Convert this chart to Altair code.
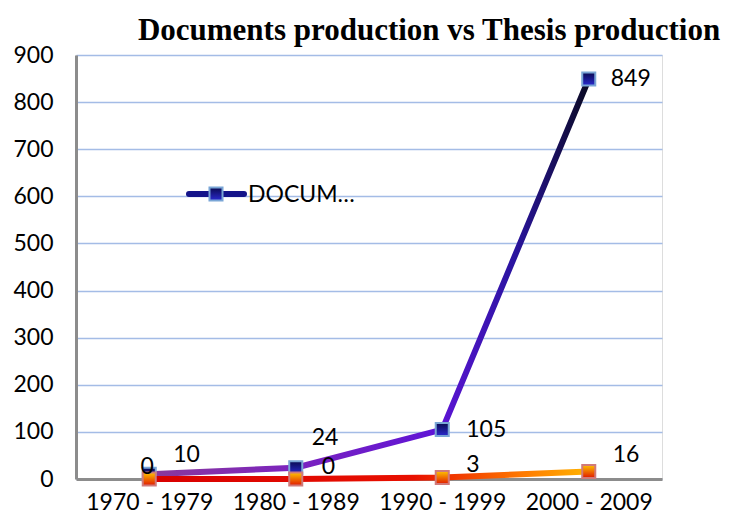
import altair as alt
import pandas as pd

periods = ["1970 - 1979", "1980 - 1989", "1990 - 1999", "2000 - 2009"]
documents = [10, 24, 105, 849]
thesis = [0, 0, 3, 16]
series_names = ["DOCUMENTS", "THESIS"]

df_doc = pd.DataFrame({"period": periods, "value": documents, "series": series_names[0]})
df_th = pd.DataFrame({"period": periods, "value": thesis, "series": series_names[1]})

FONT = "Lato"
FS = 23
x_enc = alt.X("period:N", sort=periods, title=None,
              scale=alt.Scale(type="point", padding=0.5),
              axis=alt.Axis(labelAngle=0, labelFont=FONT, labelFontSize=FS, labelColor="#000",
                            labelPadding=12, ticks=False, domainColor="#8c8c8c", domainWidth=3,
                            grid=False))
y_enc = alt.Y("value:Q", title=None,
              scale=alt.Scale(domain=[0, 900], nice=False),
              axis=alt.Axis(values=list(range(0, 1000, 100)), labelFont=FONT, labelFontSize=FS,
                            labelColor="#000", labelPadding=23, ticks=False,
                            domainColor="#8c8c8c", domainWidth=3,
                            gridColor="#a4bce6", gridWidth=1.5))

doc_line_grad = alt.LinearGradient(
    gradient="linear", x1=0, y1=0, x2=1, y2=0,
    stops=[alt.GradientStop(offset=0, color="#8a3a9c"),
           alt.GradientStop(offset=0.35, color="#7a22c0"),
           alt.GradientStop(offset=0.66, color="#5e14d6"),
           alt.GradientStop(offset=0.83, color="#2a14a0"),
           alt.GradientStop(offset=1, color="#0a0a22")])
th_line_grad = alt.LinearGradient(
    gradient="linear", x1=0, y1=0, x2=1, y2=0,
    stops=[alt.GradientStop(offset=0, color="#d80000"),
           alt.GradientStop(offset=0.6, color="#e81000"),
           alt.GradientStop(offset=0.85, color="#ff7a00"),
           alt.GradientStop(offset=1, color="#ffb400")])
doc_marker_grad = alt.LinearGradient(
    gradient="linear", x1=0, y1=0, x2=0, y2=1,
    stops=[alt.GradientStop(offset=0, color="#0a0a50"),
           alt.GradientStop(offset=1, color="#2a2ad0")])
th_marker_grad = alt.LinearGradient(
    gradient="linear", x1=0, y1=0, x2=0, y2=1,
    stops=[alt.GradientStop(offset=0, color="#ffc400"),
           alt.GradientStop(offset=1, color="#e01800")])

base_doc = alt.Chart(df_doc)
base_th = alt.Chart(df_th)

doc_line = base_doc.mark_line(stroke=doc_line_grad, strokeWidth=6, strokeCap="round").encode(x=x_enc, y=y_enc)
doc_pts = base_doc.mark_square(size=170, fill=doc_marker_grad, stroke="#7aa6d6", strokeWidth=2, opacity=1).encode(x=x_enc, y=y_enc)
th_line = base_th.mark_line(stroke=th_line_grad, strokeWidth=6, strokeCap="round").encode(x=x_enc, y=y_enc)
th_pts = base_th.mark_square(size=170, fill=th_marker_grad, stroke="#d07a7a", strokeWidth=2, opacity=1).encode(x=x_enc, y=y_enc)


def label(df, period, dx, dy, align="left"):
    return alt.Chart(df).transform_filter(alt.datum.period == period).mark_text(
        font=FONT, fontSize=FS, color="#000", align=align, baseline="middle", dx=dx, dy=dy
    ).encode(x=alt.X("period:N", sort=periods), y=alt.Y("value:Q"), text="value:Q")

labels = [
    label(df_doc, periods[0], 24, -19),
    label(df_doc, periods[1], 16, -30),
    label(df_doc, periods[2], 24, 0),
    label(df_doc, periods[3], 22, 0),
    label(df_th, periods[0], -2, -12, align="center"),
    label(df_th, periods[1], 26, -12),
    label(df_th, periods[2], 24, -13),
    label(df_th, periods[3], 24, -16),
]

# legend (Documents series only, inside plot area)
legend_df = pd.DataFrame({"series": [series_names[0]]})
leg_line = alt.Chart(legend_df).mark_rule(color="#14148a", strokeWidth=6, strokeCap="round").encode(
    x=alt.value(113), x2=alt.value(168), y=alt.value(139))
leg_pt = alt.Chart(legend_df).mark_square(size=170, fill=doc_marker_grad, stroke="#7aa6d6", strokeWidth=2, opacity=1).encode(
    x=alt.value(140), y=alt.value(139))
leg_txt = alt.Chart(legend_df).mark_text(font=FONT, fontSize=FS, color="#000", align="left", baseline="middle", limit=112).encode(
    x=alt.value(172), y=alt.value(140), text="series:N")

chart = alt.layer(doc_line, doc_pts, th_line, th_pts, *labels, leg_line, leg_pt, leg_txt).properties(
    width=586, height=424,
    title=alt.TitleParams("Documents production vs Thesis production", font="Liberation Serif",
                          fontSize=31, fontWeight="bold", color="#000", anchor="middle", dx=60, offset=-3),
    padding={"left": 68, "top": 47, "right": 59, "bottom": 36},
    autosize=alt.AutoSizeParams(type="none"),
).configure_view(stroke=None).configure(background="white")

chart.save("out.html", embed_options={"renderer": "svg", "actions": False})
